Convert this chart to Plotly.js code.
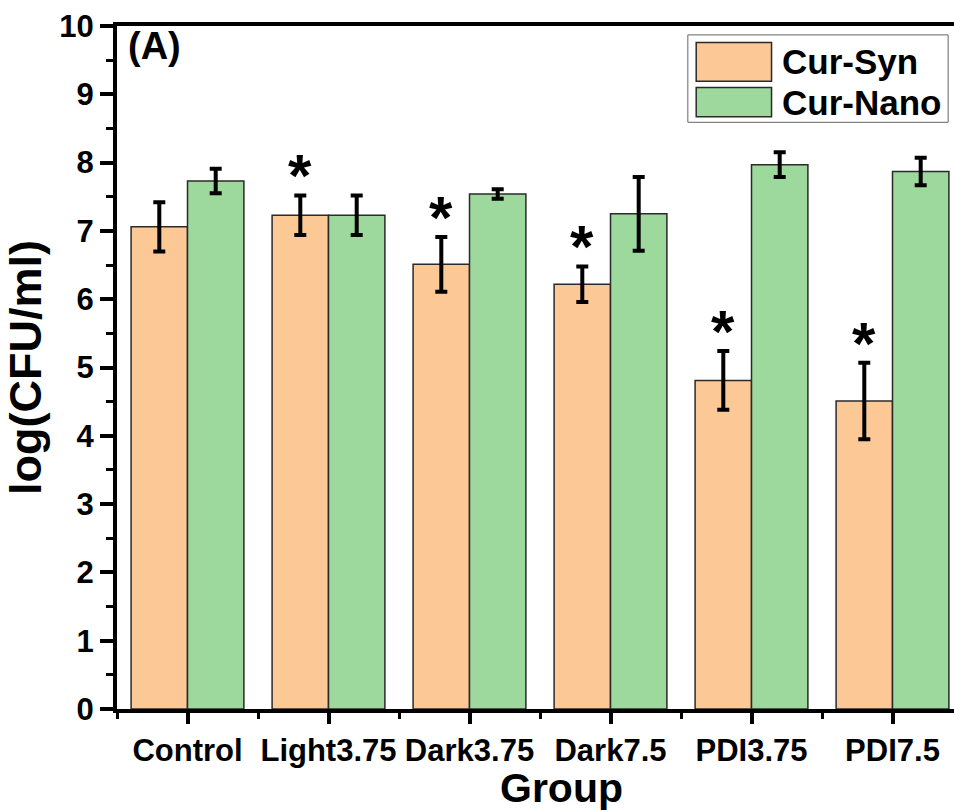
<!DOCTYPE html>
<html>
<head>
<meta charset="utf-8">
<script src="https://cdn.plot.ly/plotly-3.0.1.min.js"></script>
<style>html,body{margin:0;padding:0;background:#fff;}#chart{width:954px;height:812px;}</style>
</head>
<body>
<div id="chart"></div>
<script>
// ---- data ----
const categories = ['Control', 'Light3.75', 'Dark3.75', 'Dark7.5', 'PDI3.75', 'PDI7.5'];
const seriesNames = ['Cur-Syn', 'Cur-Nano'];
const synMean  = [7.06, 7.23, 6.51, 6.22, 4.81, 4.51];
const synErr   = [0.36, 0.29, 0.40, 0.26, 0.43, 0.56];
const nanoMean = [7.73, 7.23, 7.54, 7.25, 7.97, 7.87];
const nanoErr  = [0.18, 0.29, 0.07, 0.54, 0.18, 0.20];
const synSignificant = [false, true, true, true, true, true];
const yTickVals = [0, 1, 2, 3, 4, 5, 6, 7, 8, 9, 10];
const panelLabel = '(A)';
const xTitle = 'Group';
const yTitle = 'log(CFU/ml)';

// ---- styling ----
const FONT = '"Liberation Sans", Arial, sans-serif';
const colSyn = '#FCC996';
const colNano = '#9DD89D';
const barLine = {color: '#2a2a2a', width: 1.5};
const bargap = 0.2;
const barW = (1 - bargap) / 2;

const xIdx = categories.map((c, i) => i);

const traces = [
  {
    type: 'bar', name: seriesNames[0], x: xIdx, y: synMean,
    marker: {color: colSyn, line: barLine},
    error_y: {type: 'data', array: synErr, visible: true, thickness: 4, width: 6, color: '#000'},
    showlegend: false
  },
  {
    type: 'bar', name: seriesNames[1], x: xIdx, y: nanoMean,
    marker: {color: colNano, line: barLine},
    error_y: {type: 'data', array: nanoErr, visible: true, thickness: 4, width: 6, color: '#000'},
    showlegend: false
  }
];

const annotations = [];
synSignificant.forEach((sig, i) => {
  if (!sig) return;
  annotations.push({
    x: i - barW / 2, y: synMean[i] + synErr[i], xref: 'x', yref: 'y',
    text: '*', showarrow: false, yanchor: 'bottom', xanchor: 'center', yshift: -16,
    font: {family: FONT, size: 60, color: '#000', weight: 'bold'}
  });
});
// panel label
annotations.push({
  x: 0.011, y: 0.970, xref: 'paper', yref: 'paper', xanchor: 'left', yanchor: 'middle',
  text: panelLabel, showarrow: false,
  font: {family: FONT, size: 38, color: '#000', weight: 'bold'}
});
// x-axis title (placed as in the reference, slightly right of centre)
annotations.push({
  x: 0.531, y: -0.1157, xref: 'paper', yref: 'paper', xanchor: 'center', yanchor: 'middle',
  text: xTitle, showarrow: false, borderpad: 0,
  font: {family: FONT, size: 41, color: '#000', weight: 'bold'}
});

// custom legend (large swatches)
const shapes = [];
const legBox = {x0: 0.682, x1: 0.993, y0: 0.859, y1: 0.987};
shapes.push({type: 'rect', xref: 'paper', yref: 'paper', x0: legBox.x0, x1: legBox.x1, y0: legBox.y0, y1: legBox.y1,
  line: {color: '#666', width: 1}, fillcolor: '#fff', layer: 'above'});
const legRows = [
  {name: seriesNames[0], color: colSyn, y0: 0.919, y1: 0.976, ty: 0.948},
  {name: seriesNames[1], color: colNano, y0: 0.867, y1: 0.910, ty: 0.888}
];
legRows.forEach(r => {
  shapes.push({type: 'rect', xref: 'paper', yref: 'paper', x0: 0.692, x1: 0.782, y0: r.y0, y1: r.y1,
    line: {color: '#2a2a2a', width: 1.5}, fillcolor: r.color, layer: 'above'});
  annotations.push({x: 0.792, y: r.ty, xref: 'paper', yref: 'paper', xanchor: 'left', yanchor: 'middle',
    text: r.name, showarrow: false, font: {family: FONT, size: 35, color: '#000', weight: 'bold'}});
});

const layout = {
  width: 954, height: 812,
  margin: {l: 117, r: 0, t: 26, b: 103, pad: 0},
  paper_bgcolor: '#fff', plot_bgcolor: '#fff',
  barmode: 'group', bargap: bargap, bargroupgap: 0,
  showlegend: false,
  font: {family: FONT, color: '#000'},
  xaxis: {
    range: [-0.5, -0.5 + 837 / 141],
    tickmode: 'array', tickvals: xIdx, ticktext: categories,
    showline: true, linecolor: '#000', linewidth: 4, mirror: true,
    ticks: 'outside', ticklen: 11, tickwidth: 4, tickcolor: '#000',
    minor: {tickmode: 'linear', tick0: 0.5, dtick: 1, ticks: 'outside', ticklen: 6, tickwidth: 3, tickcolor: '#000', showgrid: false},
    showgrid: false, zeroline: false,
    tickfont: {family: FONT, size: 31, color: '#000', weight: 'bold'}
  },
  yaxis: {
    range: [0, 10],
    tickmode: 'array', tickvals: yTickVals,
    showline: true, linecolor: '#000', linewidth: 4, mirror: false,
    ticks: 'outside', ticklen: 13, tickwidth: 4, tickcolor: '#000',
    minor: {tickmode: 'linear', tick0: 0.5, dtick: 1, ticks: 'outside', ticklen: 7, tickwidth: 3, tickcolor: '#000', showgrid: false},
    showgrid: false, zeroline: false,
    tickfont: {family: FONT, size: 31, color: '#000', weight: 'bold'},
    title: {text: yTitle, standoff: 8, font: {family: FONT, size: 45, color: '#000', weight: 'bold'}}
  },
  annotations: annotations,
  shapes: shapes
};

Plotly.newPlot('chart', traces, layout, {staticPlot: true, displayModeBar: false});
</script>
</body>
</html>
